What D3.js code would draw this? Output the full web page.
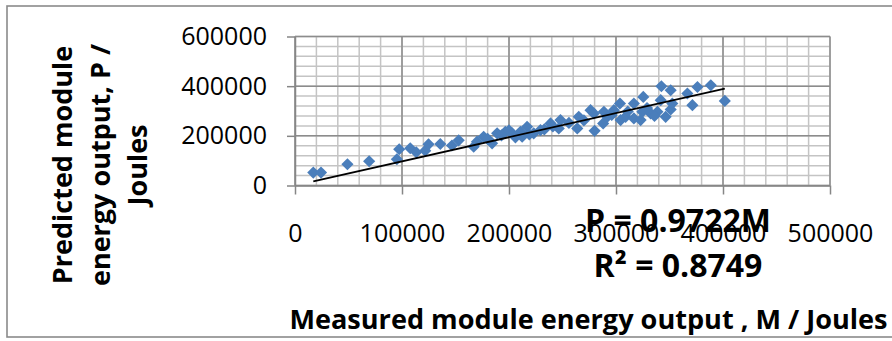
<!DOCTYPE html>
<html>
<head>
<meta charset="utf-8">
<script src="https://cdn.jsdelivr.net/npm/d3@7"></script>
<style>
  body { margin: 0; background: #fff; }
  text { font-family: "Open Sans", "Noto Sans", sans-serif; fill: #000; }
</style>
</head>
<body>
<svg id="chart" width="892" height="341"></svg>
<script>
// measured module energy output (M) and predicted output (P), Joules
const measured = [
  17100, 24300, 49000, 69300, 95200, 97400, 107700, 113300, 121700, 124800,
  135800, 146700, 153000, 167000, 170100, 176300, 184200, 188900, 196600, 202900,
  210700, 216900, 212300, 223100, 229400, 238800, 248100, 246500, 265200, 263800,
  276200, 280000, 288000, 291800, 279300, 288700, 298000, 303700, 304300, 309000,
  316700, 316700, 323000, 325500, 324600, 332400, 338700, 341800, 342400, 346400,
  351100, 351100, 352600, 366700, 371400, 376100, 388600, 401700,
  180000, 193000, 200000, 206000, 219000, 233000, 241000, 256000, 270000, 296000,
  311000, 329000, 336000
];
const predicted = [
  52000, 52000, 85700, 97800, 105800, 145900, 149900, 133900, 140300, 165900,
  167100, 161000, 182000, 156300, 176400, 196400, 169900, 210000, 216400, 210000,
  216400, 236500, 196400, 210000, 223200, 250100, 263300, 230000, 276600, 230000,
  303400, 220000, 250000, 276600, 290200, 296600, 303400, 330300, 263300, 276600,
  330300, 270100, 263300, 356700, 296600, 290200, 296600, 343500, 399600, 276600,
  306200, 383600, 330300, 370300, 323400, 396800, 403600, 340700,
  188000, 202000, 222000, 194000, 206000, 226000, 238000, 252000, 262000, 284000,
  298000, 312000, 280000
];
const slope = 0.9722;
const xTicks = [0, 100000, 200000, 300000, 400000, 500000];
const yTicks = [0, 200000, 400000, 600000];
const xTitle = "Measured module energy output , M / Joules";
const yTitle = ["Predicted module", "energy output, P /", "Joules"];
const eqLine = "P = 0.9722M";
const r2Line = "R² = 0.8749";

const points = measured.map((m, i) => ({ m, p: predicted[i] }));

const svg = d3.select("#chart");
const plot = { left: 295, right: 830, top: 36.5, bottom: 185.5 };

// outer chart frame (right edge is cropped in the original)
svg.append("rect")
  .attr("x", 7).attr("y", 6)
  .attr("width", 900).attr("height", 331)
  .attr("fill", "none")
  .attr("stroke", "#8a8a8a")
  .attr("stroke-width", 1.6);

const x = d3.scaleLinear().domain([0, 500000]).range([plot.left, plot.right]);
const y = d3.scaleLinear().domain([0, 600000]).range([plot.bottom, plot.top]);

// gridlines: minor first, then major
const grid = svg.append("g");
grid.selectAll(".vminor")
  .data(d3.range(0, 500001, 20000))
  .enter().append("line")
  .attr("x1", d => x(d)).attr("x2", d => x(d))
  .attr("y1", plot.top).attr("y2", plot.bottom)
  .attr("stroke", "#c4c4c4").attr("stroke-width", 1.5);
grid.selectAll(".hminor")
  .data(d3.range(0, 600001, 40000))
  .enter().append("line")
  .attr("x1", plot.left).attr("x2", plot.right)
  .attr("y1", d => y(d)).attr("y2", d => y(d))
  .attr("stroke", "#c4c4c4").attr("stroke-width", 1.5);
grid.selectAll(".vmajor")
  .data(xTicks)
  .enter().append("line")
  .attr("x1", d => x(d)).attr("x2", d => x(d))
  .attr("y1", plot.top).attr("y2", plot.bottom)
  .attr("stroke", "#8c8c8c").attr("stroke-width", 1.5);
grid.selectAll(".hmajor")
  .data(yTicks)
  .enter().append("line")
  .attr("x1", plot.left).attr("x2", plot.right)
  .attr("y1", d => y(d)).attr("y2", d => y(d))
  .attr("stroke", "#8c8c8c").attr("stroke-width", 1.5);

// axes
const yAxis = svg.append("g")
  .attr("transform", `translate(${plot.left},0)`)
  .call(d3.axisLeft(y).tickValues(yTicks).tickSize(8).tickSizeOuter(0).tickPadding(20).tickFormat(d3.format("d")));
const xAxis = svg.append("g")
  .attr("transform", `translate(0,${plot.bottom})`)
  .call(d3.axisBottom(x).tickValues(xTicks).tickSize(9).tickSizeOuter(0).tickPadding(30).tickFormat(d3.format("d")));

[xAxis, yAxis].forEach(a => {
  a.select(".domain").attr("stroke", "#868686").attr("stroke-width", 1.5);
  a.selectAll(".tick line").attr("stroke", "#868686").attr("stroke-width", 1.5);
  a.selectAll(".tick text")
    .attr("fill", "#000")
    .style("font-family", '"Open Sans", sans-serif')
    .style("font-size", "25px");
});

// data points
svg.append("g")
  .selectAll("path")
  .data(points)
  .enter().append("path")
  .attr("d", d3.symbol(d3.symbolSquare, 74))
  .attr("transform", d => `translate(${x(d.m)},${y(d.p)}) rotate(45)`)
  .attr("fill", "#4a7ebb");

// linear trendline through origin
const mExt = d3.extent(measured);
svg.append("line")
  .attr("x1", x(mExt[0])).attr("y1", y(slope * mExt[0]))
  .attr("x2", x(mExt[1])).attr("y2", y(slope * mExt[1]))
  .attr("stroke", "#000").attr("stroke-width", 1.8);

// equation label
svg.append("text")
  .attr("x", 678).attr("y", 232)
  .attr("text-anchor", "middle")
  .style("font-size", "32px").style("font-weight", "bold")
  .text(eqLine);
svg.append("text")
  .attr("x", 678).attr("y", 277)
  .attr("text-anchor", "middle")
  .style("font-size", "32px").style("font-weight", "bold")
  .text(r2Line);

// axis titles
svg.append("text")
  .attr("x", 588.5).attr("y", 329)
  .attr("text-anchor", "middle")
  .style("font-size", "27.1px").style("font-weight", "bold")
  .text(xTitle);

const yt = svg.append("text")
  .attr("transform", "translate(0,165) rotate(-90)")
  .attr("text-anchor", "middle")
  .style("font-size", "27px").style("font-weight", "bold");
yt.selectAll("tspan")
  .data(yTitle)
  .enter().append("tspan")
  .attr("x", 0)
  .attr("y", (d, i) => 72 + i * 37.5)
  .text(d => d);
</script>
</body>
</html>
